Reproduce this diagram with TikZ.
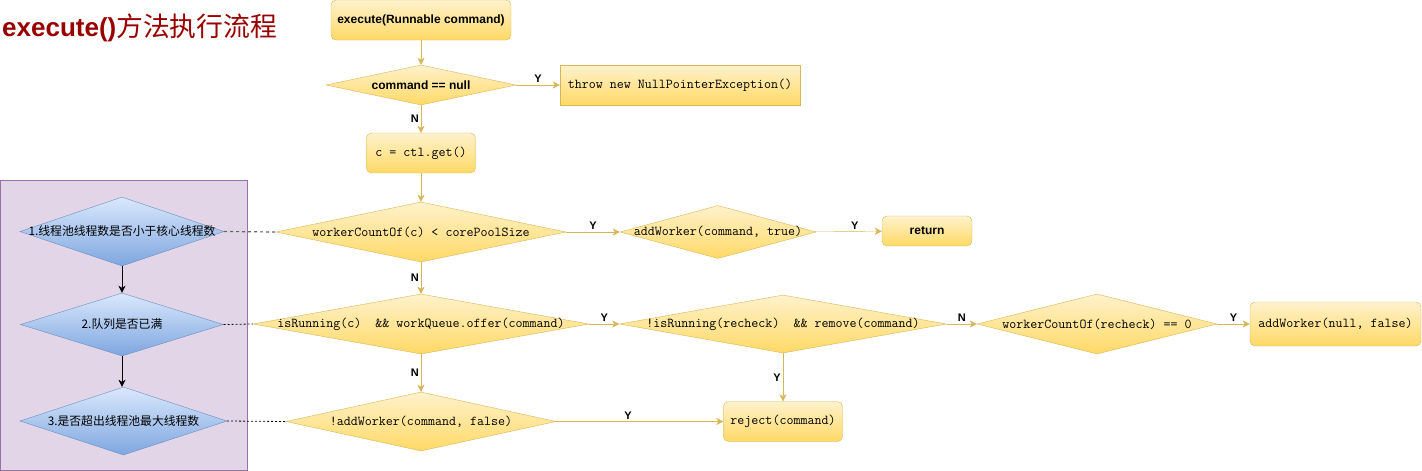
\documentclass[tikz,border=0pt]{standalone}
\usepackage{fontspec}
\setsansfont{Liberation Sans}
\newfontfamily\cjk{Noto Sans CJK SC}
\usetikzlibrary{shapes.geometric,arrows.meta}
\definecolor{jaunePale}{HTML}{FFF2CC}
\definecolor{jauneFonce}{HTML}{FFD966}
\definecolor{jauneBord}{HTML}{D6B656}
\definecolor{bleuPale}{HTML}{DAE8FC}
\definecolor{bleuFonce}{HTML}{7EA6E0}
\definecolor{bleuBord}{HTML}{6C8EBF}
\definecolor{mauveFond}{HTML}{E1D5E7}
\definecolor{mauveBord}{HTML}{9673A6}
\definecolor{titreRouge}{HTML}{990000}
\newcommand{\code}[1]{\makebox[0pt]{\ttfamily\fontsize{13.6}{14}\selectfont #1}}
\newcommand{\gras}[1]{\makebox[0pt]{\sffamily\bfseries\fontsize{12}{14}\selectfont #1}}
\newcommand{\zh}[1]{\makebox[0pt]{\cjk\fontsize{11.8}{13}\selectfont #1}}

\begin{document}
\begin{tikzpicture}[x=1pt,y=-1pt]
    \tikzset{ProcStyle/.style =   {draw=jauneBord,top color=jaunePale,bottom color=jauneFonce,rounded corners=5pt,inner sep=0pt}}
    \tikzset{TestStyle/.style =   {diamond,draw=jauneBord,top color=jaunePale,bottom color=jauneFonce,inner sep=0pt}}
    \tikzset{EtapeStyle/.style =  {diamond,draw=bleuBord,top color=bleuPale,bottom color=bleuFonce,inner sep=0pt}}
    \tikzset{FlecheStyle/.style = {draw=jauneBord,-{Stealth[length=7pt,width=7pt,inset=2pt]}}}
    \tikzset{FlecheNoire/.style = {draw=black,line width=1pt,-{Stealth[length=7pt,width=7pt,inset=2pt]}}}
    \tikzset{Etiquette/.style =   {font=\sffamily\bfseries\fontsize{11}{12}\selectfont,inner sep=2pt}}
    \tikzset{Pointille/.style =   {line width=0.8pt,dash pattern=on 2pt off 2pt}}

    \useasboundingbox (0,0) rectangle (1422,471);

    % titre
    \node[anchor=west,inner sep=0pt,text=titreRouge] (titre) at (2,28)
      {\fontsize{26}{28}\selectfont\sffamily\bfseries execute()\mdseries\cjk\fontsize{26.8}{28}\selectfont 方法执行流程};

    % colonne principale
    \node[ProcStyle,minimum width=180,minimum height=40] (exec) at (421,20) {\gras{execute(Runnable command)}};
    \node[TestStyle,minimum width=190,minimum height=40] (cmdnull) at (421,85) {\gras{command == null}};
    \node[ProcStyle,rounded corners=0pt,minimum width=240,minimum height=40] (npe) at (680,85) {\code{throw new NullPointerException()}};
    \node[ProcStyle,minimum width=109,minimum height=40] (getc) at (421,153) {\code{c = ctl.get()}};
    \node[TestStyle,minimum width=290,minimum height=60] (wcCore) at (421,232) {\code{workerCountOf(c) < corePoolSize}};
    \node[TestStyle,minimum width=196,minimum height=53] (addCore) at (718,232) {\code{addWorker(command, true)}};
    \node[ProcStyle,minimum width=90,minimum height=30] (ret) at (927,231) {\gras{return}};
    \node[TestStyle,minimum width=336,minimum height=60] (offer) at (421,324) {\code{isRunning(c)~~\&\& workQueue.offer(command)}};
    \node[TestStyle,minimum width=327,minimum height=58] (recheck) at (783,324) {\code{!isRunning(recheck)~~\&\& remove(command)}};
    \node[TestStyle,minimum width=240,minimum height=60] (wcZero) at (1097,324) {\code{workerCountOf(recheck) == 0}};
    \node[ProcStyle,minimum width=171,minimum height=44] (addNull) at (1335.5,324) {\code{addWorker(null, false)}};
    \node[TestStyle,minimum width=270,minimum height=59] (addMax) at (421,421.5) {\code{!addWorker(command, false)}};
    \node[ProcStyle,minimum width=119,minimum height=40] (reject) at (783,421.5) {\code{reject(command)}};

    % zone de gauche
    \node[draw=mauveBord,fill=mauveFond,minimum width=247,minimum height=290,inner sep=0pt] (zone) at (124,325.5) {};
    \node[EtapeStyle,minimum width=204,minimum height=69] (q1) at (122,231.5) {\zh{1.线程池线程数是否小于核心线程数}};
    \node[EtapeStyle,minimum width=203,minimum height=63] (q2) at (122,324.5) {\zh{2.队列是否已满}};
    \node[EtapeStyle,minimum width=207,minimum height=68] (q3) at (123.5,421) {\zh{3.是否超出线程池最大线程数}};

    \draw[FlecheNoire] (q1.south) -- (q1.south |- q2.north);
    \draw[FlecheNoire] (q2.south) -- (q2.south |- q3.north);
    \draw[Pointille,draw=black!60,line width=1.2pt,dash pattern=on 3pt off 3pt] (q1.east) -- (wcCore.west);
    \draw[Pointille] (q2.east) -- (offer.west);
    \draw[Pointille] (q3.east) -- (addMax.west);

    % liaisons
    \draw[FlecheStyle] (exec) -- (cmdnull);
    \draw[FlecheStyle] (cmdnull) -- node[Etiquette,above] {Y} (npe);
    \draw[FlecheStyle] (cmdnull) -- node[Etiquette,left] {N} (getc);
    \draw[FlecheStyle] (getc) -- (wcCore);
    \draw[FlecheStyle] (wcCore) -- node[Etiquette,above] {Y} (addCore);
    \draw[FlecheStyle] (addCore) -- node[Etiquette,above,pos=0.6] {Y} (ret);
    \draw[FlecheStyle] (wcCore) -- node[Etiquette,left] {N} (offer);
    \draw[FlecheStyle] (offer) -- node[Etiquette,above] {Y} (recheck);
    \draw[FlecheStyle] (recheck) -- node[Etiquette,above] {N} (wcZero);
    \draw[FlecheStyle] (wcZero) -- node[Etiquette,above] {Y} (addNull);
    \draw[FlecheStyle] (recheck) -- node[Etiquette,left] {Y} (reject);
    \draw[FlecheStyle] (offer) -- node[Etiquette,left] {N} (addMax);
    \draw[FlecheStyle] (addMax) -- node[Etiquette,above,pos=0.43] {Y} (reject);
\end{tikzpicture}
\end{document}
